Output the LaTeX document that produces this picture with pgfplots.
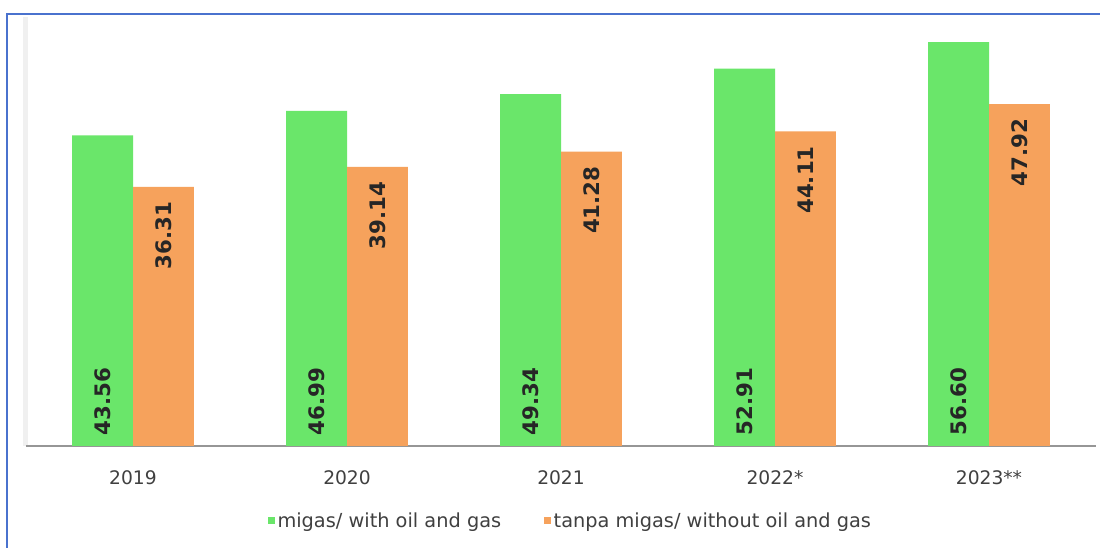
\documentclass[border=0pt]{standalone}
\usepackage{fontspec}
\setmainfont{DejaVu Sans}
\usepackage{pgfplots}
\pgfplotsset{compat=1.18}

\definecolor{bargreen}{RGB}{106,230,106}
\definecolor{barorange}{RGB}{246,162,92}
\definecolor{framblue}{RGB}{74,114,206}
\definecolor{ticktext}{RGB}{64,64,64}
\definecolor{axisgray}{RGB}{150,150,150}

\begin{document}
\begin{tikzpicture}
% 1 px of the reference = 0.75pt
\clip (0,0) rectangle (825pt,411pt);
\fill[white] (0,0) rectangle (825pt,411pt);
\draw[framblue, line width=1.4pt] (5.25pt,-20pt) rectangle (845pt,400.5pt);
\fill[black!6] (17.5pt,76.5pt) rectangle (21pt,398pt);

\begin{axis}[
at={(19.5pt,76.5pt)}, anchor=south west,
scale only axis,
width=802.5pt, height=321pt,
ybar,
bar width=0.285,
xmin=-0.5, xmax=4.5,
ymin=0, ymax=60,
axis x line*=bottom,
axis y line=none,
x axis line style={axisgray, line width=1.5pt},
xtick={0,1,2,3,4},
xticklabels={2019,2020,2021,2022*,2023**},
major x tick style={draw=none},
extra x ticks={-0.5,0.5,1.5,2.5,3.5,4.5},
extra x tick labels={},
extra x tick style={tick align=outside, major tick length=7pt,
  tick style={axisgray, line width=1pt}},
x tick label style={font=\fontsize{14}{16}\selectfont, text=ticktext, yshift=-10.5pt},
ytick=\empty,
legend columns=2,
legend style={at={(0.509,0)}, anchor=center, yshift=-56.25pt, draw=none,
  fill=none, font=\fontsize{14.5}{16}\selectfont, text=ticktext,
  /tikz/every even column/.append style={column sep=30pt}},
legend image code/.code={\fill[#1, draw=none] (0pt,-2.6pt) rectangle (5.4pt,2.8pt);},
]
\addplot[fill=bargreen, draw=none, bar shift=-0.1425] coordinates {
(0,43.56) (1,46.99) (2,49.34) (3,52.91) (4,56.60)};
\addlegendentry{migas/ with oil and gas}
\addplot[fill=barorange, draw=none, bar shift=0.1425,
  nodes near coords, point meta=explicit symbolic,
  every node near coord/.append style={rotate=90, anchor=east, inner xsep=11pt,
    inner ysep=0pt, font=\fontsize{16}{18}\selectfont\bfseries, text=black!85}]
coordinates {
(0,36.31) [36.31] (1,39.14) [39.14] (2,41.28) [41.28] (3,44.11) [44.11] (4,47.92) [47.92]};
\addlegendentry{tanpa migas/ without oil and gas}
% labels sitting at the foot of the green bars
\addplot[draw=none, fill=none, bar shift=-0.1425, forget plot,
  nodes near coords, point meta=explicit symbolic,
  every node near coord/.append style={rotate=90, anchor=west, inner xsep=8pt,
    inner ysep=0pt, font=\fontsize{16}{18}\selectfont\bfseries, text=black!85}]
coordinates {
(0,0) [43.56] (1,0) [46.99] (2,0) [49.34] (3,0) [52.91] (4,0) [56.60]};
\end{axis}
\end{tikzpicture}
\end{document}
